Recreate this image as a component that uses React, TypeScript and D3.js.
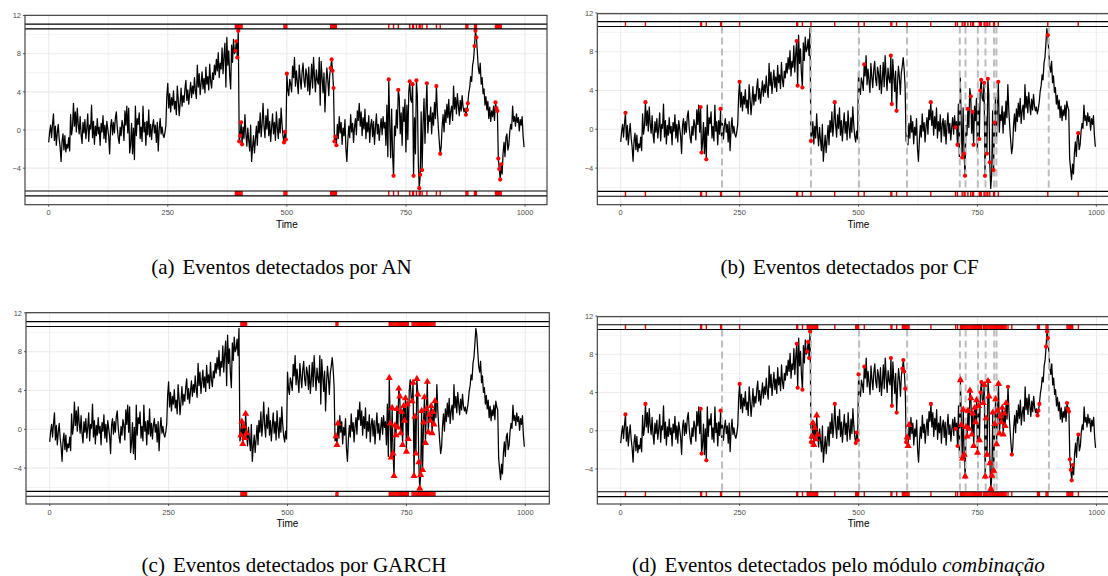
import * as d3 from 'd3';

// series, one value every 2 time units (t = 0, 2, ..., 998)
const STEP = 2;
const series: number[] = [
  -1.3, -0.2, 0.5, -0.8, 0.6, 1.7, -1.1, 0.4, -1.6, -0.3, 0.6, -0.9, -1.8, -3.3, -1.2, -0.4, -2.1, -0.6, -2.3, -1.5, -1.9, -0.8, -2.2, 1.6, -0.5,
  0.3, 2.8, 0.4, 1.9, -0.2, 2.3, 0.6, -0.4, 1.4, -0.5, -1.4, 0.8, -0.3, 1.1, -0.9, 0.2, 1.7, -1.2, 0.5, 0.1, 2.6, -0.8, 0.9, -1.5, 0.4,
  -0.6, 1.2, -0.4, 0.3, -1.6, 0.7, -0.2, 1.5, -0.9, 0.5, -1.3, 0.9, 0.1, -0.7, -2.5, 0.4, 1.1, -0.5, 0.8, -0.3, 1.3, 1.9, 0.2, -0.8, -1.4,
  0.3, -0.6, 1.0, 0.4, -1.1, 2.0, 0.5, 2.5, -0.3, 2.3, -2.4, -1.5, 0.7, -2.5, 0.2, -3.1, 2.5, -0.6, 1.2, 0.6, 1.8, -0.9, 0.3, -1.2, 2.5,
  -0.2, 0.8, -1.6, 0.9, -0.5, 2.1, -0.7, 0.6, -1.0, 0.4, 1.1, -0.3, 0.5, -1.3, 0.8, -2.2, 0.1, 1.2, -0.4, 0.3, -0.5, -0.8, -0.3, 0.5, 3.5,
  4.9, 2.3, 3.8, 1.9, 3.4, 2.6, 4.1, 2.2, 3.0, 1.6, 4.6, 3.2, 1.5, 2.8, 4.4, 2.5, 3.6, 2.9, 4.3, 5.2, 3.1, 4.2, 2.7, 3.9, 5.0,
  3.4, 4.6, 3.8, 5.5, 4.1, 3.3, 6.8, 4.5, 5.9, 3.7, 4.9, 6.1, 4.3, 5.4, 3.9, 6.6, 4.8, 5.6, 4.2, 6.9, 5.1, 4.4, 6.0, 5.3, 6.8,
  5.8, 7.4, 6.2, 8.1, 5.5, 7.0, 6.4, 8.6, 5.9, 7.8, 9.1, 4.5, 9.7, 6.8, 8.3, 5.7, 4.3, 8.9, 7.1, 9.5, 8.0, 8.3, 9.3, 7.6, 10.4,
  -1.2, -0.6, 0.8, -1.5, 0.3, -0.9, 1.6, -0.4, -1.7, 0.2, -1.1, -2.2, 0.5, -3.3, -1.8, -0.6, -2.4, -1.0, 0.4, -1.6, 0.9, -0.3, 1.8, -0.7, 0.6,
  2.8, 0.4, -0.8, 1.5, 0.1, 2.2, -0.6, 0.9, -1.2, 0.3, 1.7, -0.4, 0.8, -1.1, 1.9, 0.2, -0.9, 1.2, -0.3, 2.3, 0.5, -0.7, -1.3, -0.2, -1.0,
  5.9, 4.2, 3.6, 5.3, 4.8, 4.0, 6.7, 5.5, 7.6, 4.6, 6.2, 5.0, 3.8, 6.8, 5.4, 4.3, 6.1, 7.0, 5.2, 4.5, 6.4, 5.8, 4.1, 6.6, 3.7,
  5.1, 6.9, 4.4, 7.6, 5.6, 4.0, 6.3, 5.2, 4.8, 7.6, 2.6, 7.2, 5.5, 3.9, 6.0, 1.9, 4.7, 6.5, 5.3, 3.6, 5.8, 6.5, 7.4, 6.2, 4.4,
  -1.2, -0.7, -1.6, 0.6, -0.9, 1.4, -0.3, 0.8, -1.5, 0.2, -0.6, 1.1, -2.0, -3.3, -1.1, 0.4, -0.8, 1.6, -0.2, 0.7, -1.3, 0.3, 1.2, -0.5, 2.0,
  1.0, 2.8, 0.4, 1.9, -0.6, 1.3, 0.1, 2.2, -0.9, 0.8, -0.2, 1.5, -1.3, 0.5, 1.1, -0.7, 0.9, -1.5, 0.3, 1.7, -0.4, 0.6, -1.1, 0.2, 1.2,
  -0.5, 1.4, 0.2, 0.8, -1.6, 2.6, -2.8, 5.3, 0.6, -2.9, 2.2, -2.5, -4.8, 0.4, -0.6, 2.1, 0.2, 4.2, 3.4, -0.4, 1.8, -1.6, 2.4, 0.9, 3.2,
  -2.3, 2.6, -1.0, 4.0, 5.1, 3.2, 2.9, 4.8, -4.8, 1.3, -2.5, 5.2, 3.6, -3.4, -6.1, -4.7, 1.9, -4.2, 0.7, 3.3, -1.4, 2.1, 4.9, -0.3, 1.5,
  0.9, 2.4, -0.4, 1.8, 0.5, 2.9, 1.2, 4.6, 2.0, 0.3, -1.2, -2.5, -1.8, 0.4, 1.6, -0.2, 2.1, 0.8, 2.7, 1.3, 3.2, 0.6, 1.9, 2.5, 1.0,
  4.6, 2.2, 3.4, 1.7, 3.8, 2.6, 1.5, 3.1, 2.0, 3.6, 2.4, 1.9, 2.3, 1.6, 2.1, 2.8, 3.9, 4.5, 5.6, 5.1, 6.8, 7.4, 8.8, 10.4, 9.7,
  8.1, 6.5, 5.9, 7.0, 4.8, 5.5, 3.8, 4.3, 2.6, 3.5, 2.1, 3.0, 1.2, 2.4, 0.9, 2.0, 1.4, 2.5, 1.0, 2.9, 2.3, 2.0, -3.0, -4.1, -5.2,
  -3.6, -4.6, -2.4, -1.3, -2.8, -0.8, -0.4, -2.1, -1.6, -0.2, 0.6, 0.1, 2.5, 0.9, 1.4, 0.4, 1.7, 0.8, 1.3, -0.1, 1.1, 0.5, 1.4, -0.6, -1.8,
];

const xTicks = [0, 250, 500, 750, 1000];
const xMinor = [125, 375, 625, 875];
const yTicks = [-4, 0, 4, 8, 12];
const yMinor = [-6, -2, 2, 6, 10];

// detected event times per method
const anEvents = [392, 394, 396, 398, 400, 402, 404, 406, 494, 496, 498, 500, 592, 594, 596, 598, 600, 602, 604,
  714, 724, 734, 758, 764, 766, 772, 778, 780, 784, 794, 814, 822, 876, 878, 880, 894, 896, 898,
  938, 940, 942, 944, 946, 948, 950];
const cfEvents = [10, 52, 168, 170, 180, 210, 250, 370, 372, 382, 400, 450, 512, 568, 570, 580, 652,
  704, 708, 718, 722, 724, 730, 736, 740, 742, 754, 756, 758, 764, 766, 770, 772, 776, 784, 786, 794, 898, 962];
const cfChangePoints = [213, 400, 501, 602, 713, 725, 751, 767, 785, 790, 900];
const garchEvents = [402, 404, 406, 408, 410, 412, 414, 602, 604, 606,
  714, 716, 718, 720, 722, 724, 726, 728, 730, 732, 734, 736, 738, 740, 742, 744, 746, 748, 750, 752, 754,
  762, 764, 766, 768, 770, 772, 774, 776, 778, 780, 782, 784, 786, 788, 790, 792, 794, 796, 798, 800,
  802, 804, 806, 808, 810];

const captions = [
  { tag: '(a)', text: 'Eventos detectados por AN', italic: '' },
  { tag: '(b)', text: 'Eventos detectados por CF', italic: '' },
  { tag: '(c)', text: 'Eventos detectados por GARCH', italic: '' },
  { tag: '(d)', text: 'Eventos detectados pelo módulo ', italic: 'combinação' },
];

type Box = { left: number; right: number; top: number; bottom: number; x0: number; x1: number; zero: number; unit: number };

const RED = '#ff0000';

function Panel({ box, circles, triangles, strip, changes }: {
  box: Box; circles: number[]; triangles: number[]; strip: number[]; changes: number[];
}) {
  const x = d3.scaleLinear().domain([0, 1000]).range([box.x0, box.x1]);
  const y = d3.scaleLinear().domain([0, 8]).range([box.zero, box.zero - 8 * box.unit]);
  const val = (t: number) => series[Math.round(t / STEP)];
  const line = d3.line<number>().x((_, i) => x(i * STEP)).y(d => y(d));
  const tri = d3.symbol().type(d3.symbolTriangle).size(22)() as string;
  const bandLines = [11.1, 10.6, -6.4, -6.9];
  const font = "'Liberation Sans', Arial, sans-serif";

  return (
    <g>
      <rect x={box.left} y={box.top} width={box.right - box.left} height={box.bottom - box.top} fill="#fff" />
      {yMinor.map(v => (
        <line key={'ym' + v} x1={box.left} x2={box.right} y1={y(v)} y2={y(v)} stroke="#ebebeb" strokeWidth={0.6} />
      ))}
      {xMinor.map(t => (
        <line key={'xm' + t} x1={x(t)} x2={x(t)} y1={box.top} y2={box.bottom} stroke="#ebebeb" strokeWidth={0.6} />
      ))}
      {yTicks.map(v => (
        <line key={'yg' + v} x1={box.left} x2={box.right} y1={y(v)} y2={y(v)} stroke="#ebebeb" strokeWidth={1.1} />
      ))}
      {xTicks.map(t => (
        <line key={'xg' + t} x1={x(t)} x2={x(t)} y1={box.top} y2={box.bottom} stroke="#ebebeb" strokeWidth={1.1} />
      ))}
      <path d={line(series) ?? ''} fill="none" stroke="#000" strokeWidth={1.25} strokeLinejoin="round" />
      {changes.map(t => (
        <line key={'cp' + t} x1={x(t)} x2={x(t)} y1={y(10.6)} y2={y(-6.4)} stroke="#bdbdbd" strokeWidth={2} strokeDasharray="7 4" />
      ))}
      {circles.map(t => (
        <circle key={'c' + t} cx={x(t)} cy={y(val(t))} r={2.1} fill={RED} />
      ))}
      {triangles.map(t => (
        <path key={'t' + t} d={tri} transform={`translate(${x(t)},${y(val(t))})`} fill={RED} />
      ))}
      {strip.map(t => (
        <g key={'s' + t}>
          <line x1={x(t)} x2={x(t)} y1={y(11.1)} y2={y(10.6)} stroke={RED} strokeWidth={1.4} />
          <line x1={x(t)} x2={x(t)} y1={y(-6.4)} y2={y(-6.9)} stroke={RED} strokeWidth={1.4} />
        </g>
      ))}
      {bandLines.map(v => (
        <line key={'b' + v} x1={box.left} x2={box.right} y1={y(v)} y2={y(v)} stroke="#000" strokeWidth={1.1} />
      ))}
      <rect x={box.left} y={box.top} width={box.right - box.left} height={box.bottom - box.top} fill="none" stroke="#333" strokeWidth={1.1} />
      {yTicks.map(v => (
        <g key={'yl' + v}>
          <line x1={box.left - 2} x2={box.left} y1={y(v)} y2={y(v)} stroke="#333" strokeWidth={0.8} />
          <text x={box.left - 4} y={y(v) + 2.7} textAnchor="end" fontFamily={font} fontSize={7.5} fill="#4d4d4d">
            {v < 0 ? '\u2212' + Math.abs(v) : v}
          </text>
        </g>
      ))}
      {xTicks.map(t => (
        <g key={'xl' + t}>
          <line x1={x(t)} x2={x(t)} y1={box.bottom} y2={box.bottom + 2} stroke="#333" strokeWidth={0.8} />
          <text x={x(t)} y={box.bottom + 10.5} textAnchor="middle" fontFamily={font} fontSize={7.5} fill="#4d4d4d">{t}</text>
        </g>
      ))}
      <text x={(box.x0 + box.x1) / 2} y={box.bottom + 23} textAnchor="middle" fontFamily={font} fontSize={10} fill="#000">Time</text>
    </g>
  );
}

export default function App() {
  const boxA: Box = { left: 25, right: 547, top: 15.3, bottom: 204.7, x0: 48.7, x1: 525, zero: 130, unit: 9.54 };
  const boxB: Box = { left: 597.3, right: 1118, top: 13.7, bottom: 204.7, x0: 620.7, x1: 1096.3, zero: 129.3, unit: 9.7 };
  const boxC: Box = { left: 26, right: 549.3, top: 312.7, bottom: 504, x0: 49.7, x1: 525.3, zero: 429.3, unit: 9.7 };
  const boxD: Box = { left: 597.3, right: 1118, top: 316.7, bottom: 504, x0: 620.7, x1: 1096.5, zero: 430.7, unit: 9.55 };

  const cfStrip = Array.from(new Set([...cfEvents, 212, 400, 500, 602]));
  const combCircles = Array.from(new Set([...anEvents, ...cfEvents]));
  const combStrip = Array.from(new Set([...anEvents, ...cfStrip, ...garchEvents]));

  const capPos = [
    { x: 281.5, y: 273.5 },
    { x: 849.5, y: 273.5 },
    { x: 294, y: 572 },
    { x: 838.5, y: 572 },
  ];
  const serif = "'Liberation Serif', 'Times New Roman', serif";

  return (
    <svg width={1108} height={576} style={{ position: 'absolute', left: 0, top: 0, background: '#fff' }}>
      <rect width={1108} height={576} fill="#fff" />
      <Panel box={boxA} circles={anEvents} triangles={[]} strip={anEvents} changes={[]} />
      <Panel box={boxB} circles={cfEvents} triangles={[]} strip={cfStrip} changes={cfChangePoints} />
      <Panel box={boxC} circles={[]} triangles={garchEvents} strip={garchEvents} changes={[]} />
      <Panel box={boxD} circles={combCircles} triangles={garchEvents} strip={combStrip} changes={cfChangePoints} />
      {captions.map((c, i) => (
        <text key={c.tag} x={capPos[i].x} y={capPos[i].y} textAnchor="middle" fontFamily={serif} fontSize={21} fill="#000">
          <tspan>{c.tag}</tspan>
          <tspan dx={8}>{c.text}</tspan>
          {c.italic ? <tspan fontStyle="italic">{c.italic}</tspan> : null}
        </text>
      ))}
    </svg>
  );
}
